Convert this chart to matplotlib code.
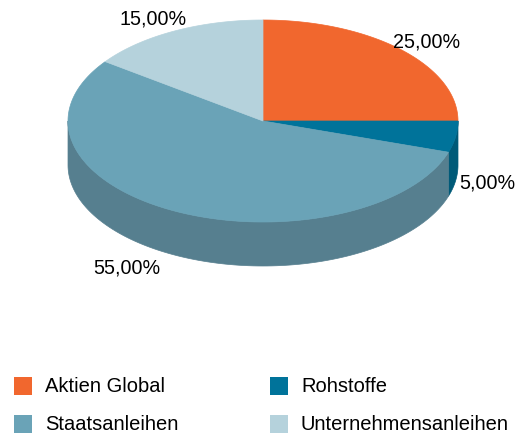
import numpy as np
import matplotlib
matplotlib.use("Agg")
import matplotlib.pyplot as plt
from matplotlib.patches import Polygon, Rectangle

labels = ["Aktien Global", "Rohstoffe", "Staatsanleihen", "Unternehmensanleihen"]
values = [25.0, 5.0, 55.0, 15.0]
top_colors = ["#F1672E", "#00739A", "#6AA3B7", "#B5D2DC"]
side_colors = ["#B84E22", "#005A78", "#567F8F", "#8AA1A9"]
value_labels = ["25,00%", "5,00%", "55,00%", "15,00%"]

plt.rcParams['font.family'] = ['Liberation Sans', 'DejaVu Sans']

W, H = 515, 434
fig = plt.figure(figsize=(W / 100, H / 100), dpi=100)
ax = fig.add_axes([0, 0, 1, 1])
ax.set_xlim(0, W)
ax.set_ylim(H, 0)
ax.axis('off')

cx, cy, rx, ry, depth = 263, 121, 195, 101, 44

def pt(theta_deg, dy=0):
    t = np.radians(theta_deg)
    return cx + rx * np.cos(t), cy + ry * np.sin(t) + dy

fracs = np.array(values) / sum(values)
starts = -90 + 360 * np.concatenate([[0], np.cumsum(fracs)[:-1]])
ends = starts + 360 * fracs

for s, e, sc in zip(starts, ends, side_colors):
    a0, a1 = max(s, 0), min(e, 180)
    if a1 <= a0:
        continue
    th = np.linspace(a0, a1, 120)
    top = [pt(t) for t in th]
    bot = [pt(t, depth) for t in th[::-1]]
    ax.add_patch(Polygon(top + bot, closed=True, facecolor=sc, edgecolor=sc, lw=0.5))

for s, e, tc in zip(starts, ends, top_colors):
    th = np.linspace(s, e, 200)
    poly = [(cx, cy)] + [pt(t) for t in th]
    ax.add_patch(Polygon(poly, closed=True, facecolor=tc, edgecolor=tc, lw=0.5))

label_pos = [(427, 42), (487, 183), (127, 268), (153, 19)]
for (x, y), txt in zip(label_pos, value_labels):
    ax.text(x, y, txt, ha='center', va='center', fontsize=14.2, color='black')

leg_pos = [(14, 386), (270, 386), (14, 424), (270, 424)]
for (x, y), lab, col in zip(leg_pos, labels, top_colors):
    ax.add_patch(Rectangle((x, y - 9), 18, 18, facecolor=col, edgecolor='none'))
    ax.text(x + 31, y + 1, lab, ha='left', va='center', fontsize=14.5, color='black')

fig.savefig("out.png", dpi=100)
